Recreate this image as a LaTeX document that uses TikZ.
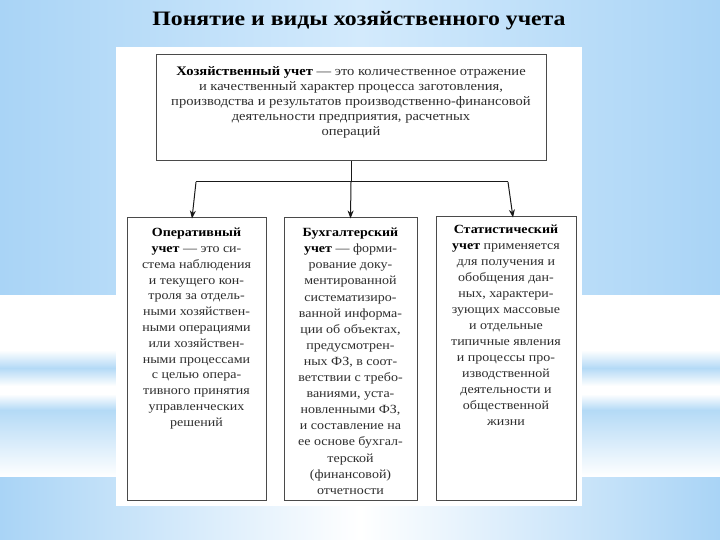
\documentclass[tikz,border=0pt]{standalone}
\usepackage{fontspec}
\setmainfont{Liberation Serif}[FakeStretch=1.12]
\newfontfamily\titlefont{Liberation Serif}[FakeStretch=1.16]
\usetikzlibrary{arrows.meta}
\definecolor{bgdark}{HTML}{A9D4F6}
\definecolor{bglight}{HTML}{D3EAFC}
\definecolor{bgstripe}{HTML}{B4DAF6}
\definecolor{boxline}{HTML}{4A4A4A}
\definecolor{boxtext}{HTML}{2E2E2E}
\newcommand{\toptext}[3]{\parbox[c][#1][t]{#2}{\centering #3}}
\begin{document}
\begin{tikzpicture}
[x=1pt,y=-1pt,
  boxdecorate/.style={shape=rectangle,draw=boxline,line width=1pt,fill=white,
    inner sep=0pt,text=boxtext},%
  bodytext/.style={font=\fontsize{12.5}{16}\selectfont},%
  linedecorate/.style={-,line width=1pt,draw=black!90},%
  arrowdecorate/.style={-{Stealth[length=8pt,width=6pt]},line width=1pt,draw=black!90}]
\useasboundingbox (0,0) rectangle (720,540);
%% background of the slide
\shade[left color=bgdark,right color=bgdark,middle color=bglight] (0,0) rectangle (720,295);
\fill[white] (0,295) rectangle (720,350);
\shade[top color=white,bottom color=bgstripe] (0,350) rectangle (720,368);
\shade[top color=bgstripe,bottom color=white] (0,368) rectangle (720,386);
\fill[white] (0,386) rectangle (720,394);
\shade[top color=white,bottom color=bgstripe] (0,394) rectangle (720,410);
\shade[top color=bgstripe,bottom color=white] (0,410) rectangle (720,477);
\shade[left color=bgdark,right color=bgdark,middle color=white] (0,477) rectangle (720,540);
\fill[white] (116,47) rectangle (582,506);
%% title
\node (title) at (359,25.7) [anchor=base,font=\titlefont\bfseries\fontsize{20.5}{24}\selectfont] {Понятие и виды хозяйственного учета};
%% boxes
\node (top) at (351,108) [boxdecorate,minimum width=390pt,minimum height=106pt,
  font=\fontsize{13}{15}\selectfont]
  {\toptext{82pt}{384pt}{\textbf{\color{black}Хозяйственный учет} — это количественное отражение\\
  и качественный характер процесса заготовления,\\
  производства и результатов производственно-финансовой\\
  деятельности предприятия, расчетных\\
  операций}};
\node (oper) at (196.5,359) [boxdecorate,bodytext,minimum width=139pt,minimum height=282pt,
  font=\fontsize{12.5}{15.8}\selectfont]
  {\toptext{262pt}{132pt}{\textbf{\color{black}Оперативный}\\
  \textbf{\color{black}учет} — это си-\\
  стема наблюдения\\
  и текущего кон-\\
  троля за отдель-\\
  ными хозяйствен-\\
  ными операциями\\
  или хозяйствен-\\
  ными процессами\\
  с целью опера-\\
  тивного принятия\\
  управленческих\\
  решений}};
\node (buh) at (350.5,359) [boxdecorate,bodytext,minimum width=133pt,minimum height=282pt,
  font=\fontsize{12.5}{16.1}\selectfont]
  {\toptext{262pt}{128pt}{\textbf{\color{black}Бухгалтерский}\\
  \textbf{\color{black}учет} — форми-\\
  рование доку-\\
  ментированной\\
  систематизиро-\\
  ванной информа-\\
  ции об объектах,\\
  предусмотрен-\\
  ных ФЗ, в соот-\\
  ветствии с требо-\\
  ваниями, уста-\\
  новленными ФЗ,\\
  и составление на\\
  ее основе бухгал-\\
  терской\\
  (финансовой)\\
  отчетности}};
\node (stat) at (506,358.5) [boxdecorate,bodytext,minimum width=140pt,minimum height=283pt]
  {\toptext{267pt}{134pt}{\textbf{\color{black}Статистический}\\
  \textbf{\color{black}учет} применяется\\
  для получения и\\
  обобщения дан-\\
  ных, характери-\\
  зующих массовые\\
  и отдельные\\
  типичные явления\\
  и процессы про-\\
  изводственной\\
  деятельности и\\
  общественной\\
  жизни}};
%% connectors
\coordinate (busL) at (196,182);
\coordinate (busR) at (508,182);
\coordinate (busM) at (top.south |- busL);
\draw[linedecorate] (top.south) -- (busM);
\draw[linedecorate] (busL) -- (busR);
\draw[arrowdecorate] (busL) -- ([xshift=-4.5pt,yshift=-1pt]oper.north);
\draw[arrowdecorate] (busM) -- ([yshift=-1pt]buh.north);
\draw[arrowdecorate] (busR) -- ([xshift=7pt,yshift=-1pt]stat.north);
\end{tikzpicture}
\end{document}
